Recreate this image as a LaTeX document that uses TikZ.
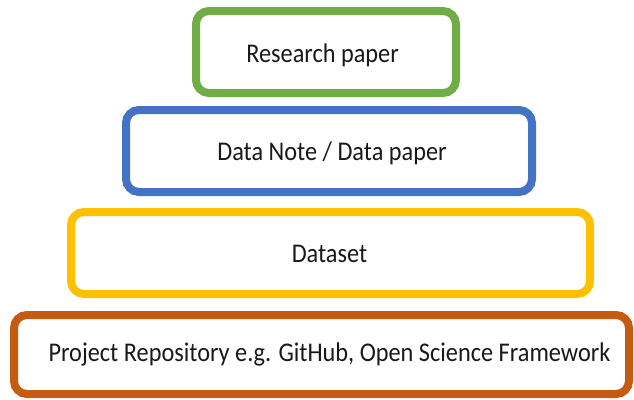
\documentclass[tikz,border=0pt]{standalone}
\usepackage{fontspec}
\setmainfont{Carlito}
\definecolor{cgreen}{HTML}{70AD47}
\definecolor{cblue}{HTML}{4472C4}
\definecolor{cyellow}{HTML}{FFC000}
\definecolor{corange}{HTML}{C55A11}
\begin{document}
\begin{tikzpicture}[x=1pt,y=-1pt,
  tier/.style={draw, line width=8pt, rounded corners=13pt, inner sep=0pt},
  lbl/.style={inner sep=0pt, text height=17pt, text depth=0pt, text=black!90, font=\fontsize{27}{30}\selectfont, xscale=0.9}]
\useasboundingbox (0,0) rectangle (634,399);
\node[tier, draw=cgreen, minimum width=260pt, minimum height=82pt] (research) at (326,52) {};
\node[tier, draw=cblue, minimum width=406pt, minimum height=82pt] (datanote) at (329,151) {};
\node[tier, draw=cyellow, minimum width=519pt, minimum height=82pt] (dataset) at (330.5,253) {};
\node[tier, draw=corange, minimum width=615pt, minimum height=79pt] (repo) at (321.5,354.5) {};
\node[lbl] (t1) at (322.5,53.5) {Research paper};
\node[lbl] (t2) at (332,152) {Data Note / Data paper};
\node[lbl] (t3) at (329.5,253.5) {Dataset};
\node[lbl] (t4) at (329.5,352.5) {Project Repository e.g. GitHub, Open Science Framework};
\end{tikzpicture}
\end{document}
